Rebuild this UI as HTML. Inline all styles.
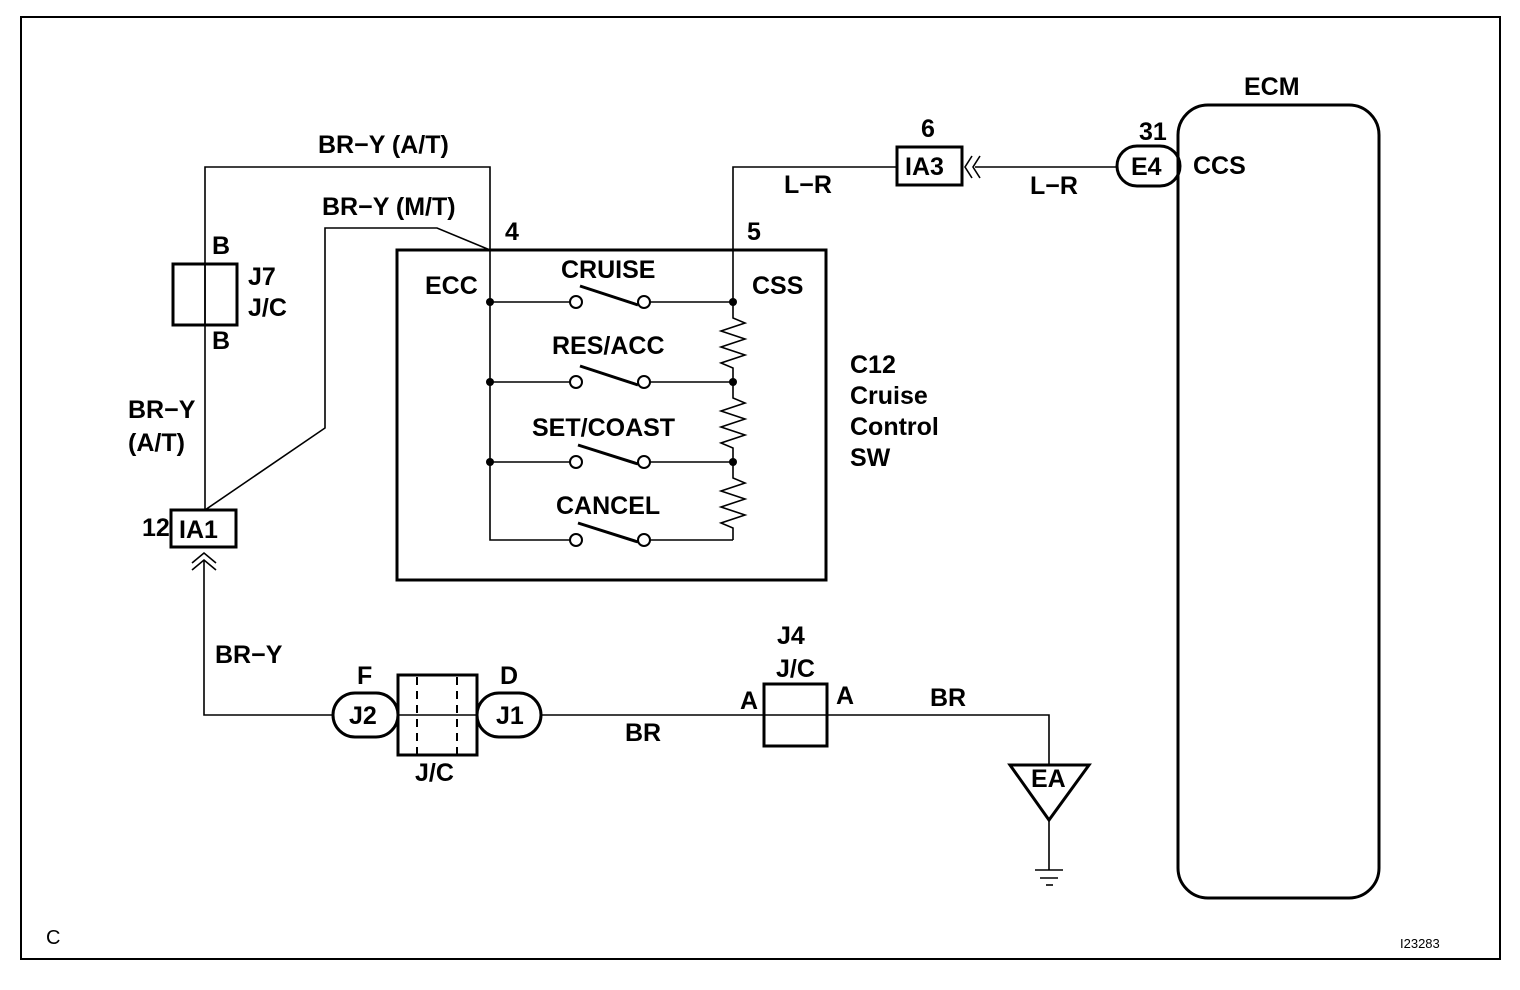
<!DOCTYPE html><html><head><style>html,body{margin:0;padding:0;background:#fff}svg{display:block}text{font-family:"Liberation Sans",sans-serif;font-size:25px;font-weight:bold;fill:#000}</style></head><body>
<svg width="1520" height="990" viewBox="0 0 1520 990" xmlns="http://www.w3.org/2000/svg">
<rect x="21" y="17" width="1479" height="942" fill="none" stroke="#000" stroke-width="2"/>
<g fill="none" stroke="#000" stroke-width="1.6">
<polyline points="205,510 205,167 490,167 490,250"/>
<polyline points="205,510 325,428 325,228 437,228 490,250"/>
<polyline points="204,560 204,715 333,715"/>
<line x1="541" y1="715" x2="764" y2="715"/>
<line x1="398" y1="715" x2="477" y2="715"/>
<line x1="764" y1="715" x2="827" y2="715"/>
<polyline points="827,715 1049,715 1049,765"/>
<line x1="1049" y1="820" x2="1049" y2="870"/>
<polyline points="733,250 733,167 897,167"/>
<line x1="975" y1="167" x2="1117" y2="167"/>
<polyline points="490,250 490,540 576,540"/>
<line x1="490" y1="302" x2="570" y2="302"/><line x1="650" y1="302" x2="733" y2="302"/>
<line x1="490" y1="382" x2="570" y2="382"/><line x1="650" y1="382" x2="733" y2="382"/>
<line x1="490" y1="462" x2="570" y2="462"/><line x1="650" y1="462" x2="733" y2="462"/>
<line x1="650" y1="540" x2="733" y2="540"/>
<polyline points="733,250 733,318 745,323 721,331 745,339 721,347 745,355 721,363 733,368 733,398 745,403 721,411 745,419 721,427 745,435 721,443 733,448 733,478 745,483 721,491 745,499 721,507 745,515 721,523 733,528 733,540"/>
<line x1="1035" y1="870" x2="1063" y2="870"/><line x1="1040" y1="878" x2="1058" y2="878"/><line x1="1046" y1="885" x2="1053" y2="885"/>
<polyline points="192,563 204,553 216,563"/><polyline points="192,570 204,560 216,570"/>
<polyline points="972,156 965,167 972,178"/><polyline points="980,156 973,167 980,178"/>
</g>
<g fill="#fff" stroke="#000" stroke-width="2"><circle cx="576" cy="302" r="6"/><circle cx="644" cy="302" r="6"/><circle cx="576" cy="382" r="6"/><circle cx="644" cy="382" r="6"/><circle cx="576" cy="462" r="6"/><circle cx="644" cy="462" r="6"/><circle cx="576" cy="540" r="6"/><circle cx="644" cy="540" r="6"/></g>
<g stroke="#000" stroke-width="3"><line x1="580" y1="286" x2="638" y2="305"/><line x1="580" y1="366" x2="638" y2="385"/><line x1="578" y1="445" x2="638" y2="464"/><line x1="578" y1="523" x2="638" y2="542"/></g>
<g fill="#000"><circle cx="490" cy="302" r="4"/><circle cx="733" cy="302" r="4"/><circle cx="490" cy="382" r="4"/><circle cx="733" cy="382" r="4"/><circle cx="490" cy="462" r="4"/><circle cx="733" cy="462" r="4"/></g>
<g fill="none" stroke="#000" stroke-width="3">
<rect x="397" y="250" width="429" height="330"/>
<rect x="173" y="264" width="64" height="61"/>
<rect x="171" y="510" width="65" height="37"/>
<rect x="897" y="147" width="65" height="38"/>
<rect x="1117" y="146" width="63" height="40" rx="20"/>
<rect x="1178" y="105" width="201" height="793" rx="30"/>
<rect x="333" y="693" width="65" height="44" rx="22"/>
<rect x="477" y="693" width="64" height="44" rx="22"/>
<rect x="398" y="675" width="79" height="80"/>
<rect x="764" y="684" width="63" height="62"/>
<polygon points="1010,765 1089,765 1049,820"/>
</g>
<g stroke="#000" stroke-width="2" stroke-dasharray="8,6"><line x1="417" y1="677" x2="417" y2="754"/><line x1="457" y1="677" x2="457" y2="754"/></g>
<line x1="205" y1="264" x2="205" y2="325" stroke="#000" stroke-width="1.6"/>
<text x="318" y="153">BR−Y (A/T)</text>
<text x="322" y="215">BR−Y (M/T)</text>
<text x="505" y="240">4</text><text x="747" y="240">5</text>
<text x="425" y="294">ECC</text><text x="752" y="294">CSS</text>
<text x="561" y="278">CRUISE</text><text x="552" y="354">RES/ACC</text><text x="532" y="436">SET/COAST</text><text x="556" y="514">CANCEL</text>
<text x="850" y="373">C12</text><text x="850" y="404">Cruise</text><text x="850" y="435">Control</text><text x="850" y="466">SW</text>
<text x="212" y="254">B</text><text x="212" y="349">B</text><text x="248" y="285">J7</text><text x="248" y="316">J/C</text>
<text x="128" y="418">BR−Y</text><text x="128" y="451">(A/T)</text>
<text x="142" y="536">12</text><text x="179" y="538">IA1</text>
<text x="921" y="137">6</text><text x="905" y="175">IA3</text>
<text x="1139" y="140">31</text><text x="1131" y="175">E4</text><text x="1193" y="174">CCS</text>
<text x="784" y="193">L−R</text><text x="1030" y="194">L−R</text><text x="1244" y="95">ECM</text>
<text x="215" y="663">BR−Y</text><text x="357" y="684">F</text><text x="500" y="684">D</text>
<text x="349" y="724">J2</text><text x="496" y="724">J1</text><text x="415" y="781">J/C</text>
<text x="625" y="741">BR</text><text x="777" y="644">J4</text><text x="776" y="677">J/C</text>
<text x="740" y="709">A</text><text x="836" y="704">A</text><text x="930" y="706">BR</text><text x="1031" y="787">EA</text>
<text x="46" y="944" style="font-size:20px;font-weight:normal">C</text><text x="1400" y="948" style="font-size:13px;font-weight:normal">I23283</text>
</svg></body></html>
